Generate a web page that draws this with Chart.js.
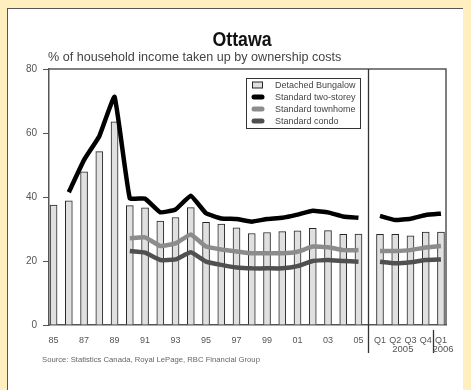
<!DOCTYPE html>
<html>
<head>
<meta charset="utf-8">
<script src="https://cdn.jsdelivr.net/npm/chart.js@4/dist/chart.umd.min.js"></script>
<style>
  html, body { margin: 0; padding: 0; }
  body { width: 471px; height: 390px; background: #FFEEBE; position: relative; overflow: hidden; }
  #panel { position: absolute; left: 7px; top: 8px; width: 456px; height: 382px; background: #fff;
           border-top: 1px solid #555; border-left: 1px solid #555; box-sizing: border-box; }
  #c { position: absolute; left: 0; top: 0; }
</style>
</head>
<body>
<div id="panel"></div>
<canvas id="c" width="471" height="390"></canvas>
<script>
// Periods: annual 1985-2005, then quarterly 2005 Q1 - 2006 Q1
const categories = ['1985','1986','1987','1988','1989','1990','1991','1992','1993','1994','1995',
  '1996','1997','1998','1999','2000','2001','2002','2003','2004','2005',
  '2005 Q1','2005 Q2','2005 Q3','2005 Q4','2006 Q1'];

const tickLabels = ['85','','87','','89','','91','','93','','95','','97','','99','','01','','03','','05',
  'Q1','Q2','Q3','Q4','Q1'];

// % of household income taken up by ownership costs
const bungalow   = [37.5, 38.8, 47.9, 54.2, 63.5, 37.3, 36.6, 32.5, 33.6, 36.7, 32.1, 31.5, 30.4,
  28.6, 28.9, 29.2, 29.4, 30.2, 29.5, 28.3, 28.4, 28.3, 28.3, 27.9, 29.0, 29.0];
const twoStorey  = [null, 41.5, 51.6, 59.0, 71.3, 39.6, 39.5, 35.2, 36.1, 40.4, 34.9, 33.3, 33.1,
  32.3, 33.1, 33.5, 34.5, 35.7, 35.2, 33.9, 33.5, 34.1, 32.8, 33.2, 34.4, 34.8];
const townhome   = [null, null, null, null, null, 27.1, 27.4, 24.7, 25.5, 28.3, 24.5, 23.6, 23.0,
  22.4, 22.4, 22.4, 22.9, 24.5, 24.3, 23.4, 23.4, 23.1, 23.1, 23.4, 24.2, 24.7];
const condo      = [null, null, null, null, null, 23.1, 22.6, 20.3, 20.5, 22.7, 19.8, 18.8, 18.0,
  17.7, 17.7, 17.7, 18.4, 20.0, 20.3, 20.0, 19.8, 19.8, 19.3, 19.6, 20.3, 20.5];

const periodLabels = ['2005', '2006'];
const sourceText = 'Source: Statistics Canada, Royal LePage, RBC Financial Group';

// Layout of the x axis: quarterly block sits a little apart from the annual block
const QUARTER_GAP = 0.41;
const isQuarter = c => c.includes('Q');
const xPos = categories.map((c, i) => isQuarter(c) ? i + QUARTER_GAP : i);
const lastYearIdx = categories.findIndex(isQuarter) - 1;
const splitX = lastYearIdx + 0.62;

const barPoints = bungalow.map((v, i) => ({ x: xPos[i], y: v }));
function linePoints(values) {
  const pts = [];
  values.forEach((v, i) => {
    pts.push({ x: xPos[i], y: v });
    if (i === lastYearIdx) pts.push({ x: splitX, y: null });
  });
  return pts;
}

const FONT = "'Liberation Sans', Arial, sans-serif";

const decor = {
  id: 'decor',
  afterDraw(chart) {
    const { ctx, chartArea: a, scales: { x } } = chart;
    ctx.save();
    // Frame on top and right of the plot
    ctx.strokeStyle = '#555';
    ctx.lineWidth = 1.5;
    ctx.beginPath();
    ctx.moveTo(a.left, a.top); ctx.lineTo(a.right, a.top); ctx.lineTo(a.right, a.bottom);
    ctx.stroke();
    // Separators between annual and quarterly data
    ctx.strokeStyle = '#333';
    ctx.lineWidth = 1.3;
    const sx = Math.round(x.getPixelForValue(splitX)) + 0.5;
    ctx.beginPath(); ctx.moveTo(sx, a.top); ctx.lineTo(sx, a.bottom + 28); ctx.stroke();
    const qx = Math.round(x.getPixelForValue((xPos[24] + xPos[25]) / 2)) + 0.5;
    ctx.beginPath(); ctx.moveTo(qx, a.bottom + 5); ctx.lineTo(qx, a.bottom + 28); ctx.stroke();

    // Year labels under the quarters
    ctx.fillStyle = '#555';
    ctx.font = '9.5px ' + FONT;
    ctx.textAlign = 'center';
    ctx.textBaseline = 'alphabetic';
    ctx.fillText(periodLabels[0], x.getPixelForValue((xPos[21] + xPos[24]) / 2), a.bottom + 27);
    ctx.fillText(periodLabels[1], x.getPixelForValue(xPos[25]) + 2, a.bottom + 27);

    // Source
    ctx.textAlign = 'left';
    ctx.font = '7.7px ' + FONT;
    ctx.fillStyle = '#666';
    ctx.fillText(sourceText, 42, a.bottom + 37);

    // Title (condensed bold) and subtitle
    ctx.fillStyle = '#111';
    ctx.font = 'bold 20px ' + FONT;
    ctx.textAlign = 'center';
    ctx.save();
    ctx.translate(242, 46);
    ctx.scale(0.885, 1);
    ctx.fillText('Ottawa', 0, 0);
    ctx.restore();
    ctx.fillStyle = '#444';
    ctx.font = '12.6px ' + FONT;
    ctx.textAlign = 'left';
    ctx.fillText('% of household income taken up by ownership costs', 48, 61);

    // Legend box
    const bx = 246, by = 78, bw = 114, bh = 50;
    ctx.fillStyle = '#fff';
    ctx.fillRect(bx, by, bw, bh);
    ctx.strokeStyle = '#333';
    ctx.lineWidth = 1;
    ctx.strokeRect(bx + 0.5, by + 0.5, bw, bh);
    const order = [3, 0, 1, 2];
    ctx.font = '9px ' + FONT;
    ctx.textBaseline = 'middle';
    order.forEach((di, r) => {
      const ds = chart.data.datasets[di];
      const cy = by + 7 + r * 12;
      if (ds.type === 'bar') {
        ctx.fillStyle = ds.backgroundColor;
        ctx.fillRect(252.5, cy - 3, 10, 6);
        ctx.strokeStyle = ds.borderColor;
        ctx.strokeRect(252.5, cy - 3, 10, 6);
      } else {
        ctx.strokeStyle = ds.borderColor;
        ctx.lineWidth = 5;
        ctx.lineCap = 'round';
        ctx.beginPath(); ctx.moveTo(254, cy); ctx.lineTo(262, cy); ctx.stroke();
        ctx.lineWidth = 1;
      }
      ctx.fillStyle = '#444';
      ctx.fillText(ds.label, 275, cy + 0.5);
    });
    ctx.restore();
  }
};

const lineStyle = (label, data, color, order) => ({
  type: 'line', label, data, borderColor: color, borderWidth: 4.5, pointRadius: 0,
  tension: 0.1, spanGaps: false, order, borderCapStyle: 'butt', borderJoinStyle: 'round'
});

new Chart(document.getElementById('c'), {
  type: 'bar',
  data: {
    datasets: [
      lineStyle('Standard two-storey', linePoints(twoStorey), '#000', 1),
      lineStyle('Standard townhome', linePoints(townhome), '#8c8c8c', 2),
      lineStyle('Standard condo', linePoints(condo), '#505050', 3),
      { type: 'bar', label: 'Detached Bungalow', data: barPoints, backgroundColor: '#e0e0e0',
        borderColor: '#262626', borderWidth: 1, barThickness: 7, order: 10, borderSkipped: 'bottom' }
    ]
  },
  options: {
    responsive: false,
    animation: false,
    layout: { padding: { left: 0, top: 69, right: 25, bottom: 35 } },
    plugins: { legend: { display: false }, tooltip: { enabled: false }, title: { display: false } },
    scales: {
      x: {
        type: 'linear', min: -0.3, max: 25.74, offset: false,
        grid: { display: false, drawTicks: false },
        border: { display: true, color: '#555', width: 1.5 },
        afterBuildTicks: s => { s.ticks = xPos.map(v => ({ value: v })); },
        ticks: {
          autoSkip: false, maxRotation: 0, padding: 10, color: '#555',
          font: { size: 9, family: FONT },
          callback: (v) => { const i = xPos.indexOf(v); return i >= 0 ? tickLabels[i] : ''; }
        },
        afterFit: s => { s.height = 30; }
      },
      y: {
        min: 0, max: 80,
        ticks: { stepSize: 20, color: '#555', padding: 6, font: { size: 10, family: FONT } },
        grid: { drawOnChartArea: false, drawTicks: true, tickLength: 6, color: '#555' },
        border: { display: true, color: '#555', width: 1.5 },
        afterFit: s => { s.width = 49; }
      }
    }
  },
  plugins: [decor]
});
</script>
</body>
</html>
